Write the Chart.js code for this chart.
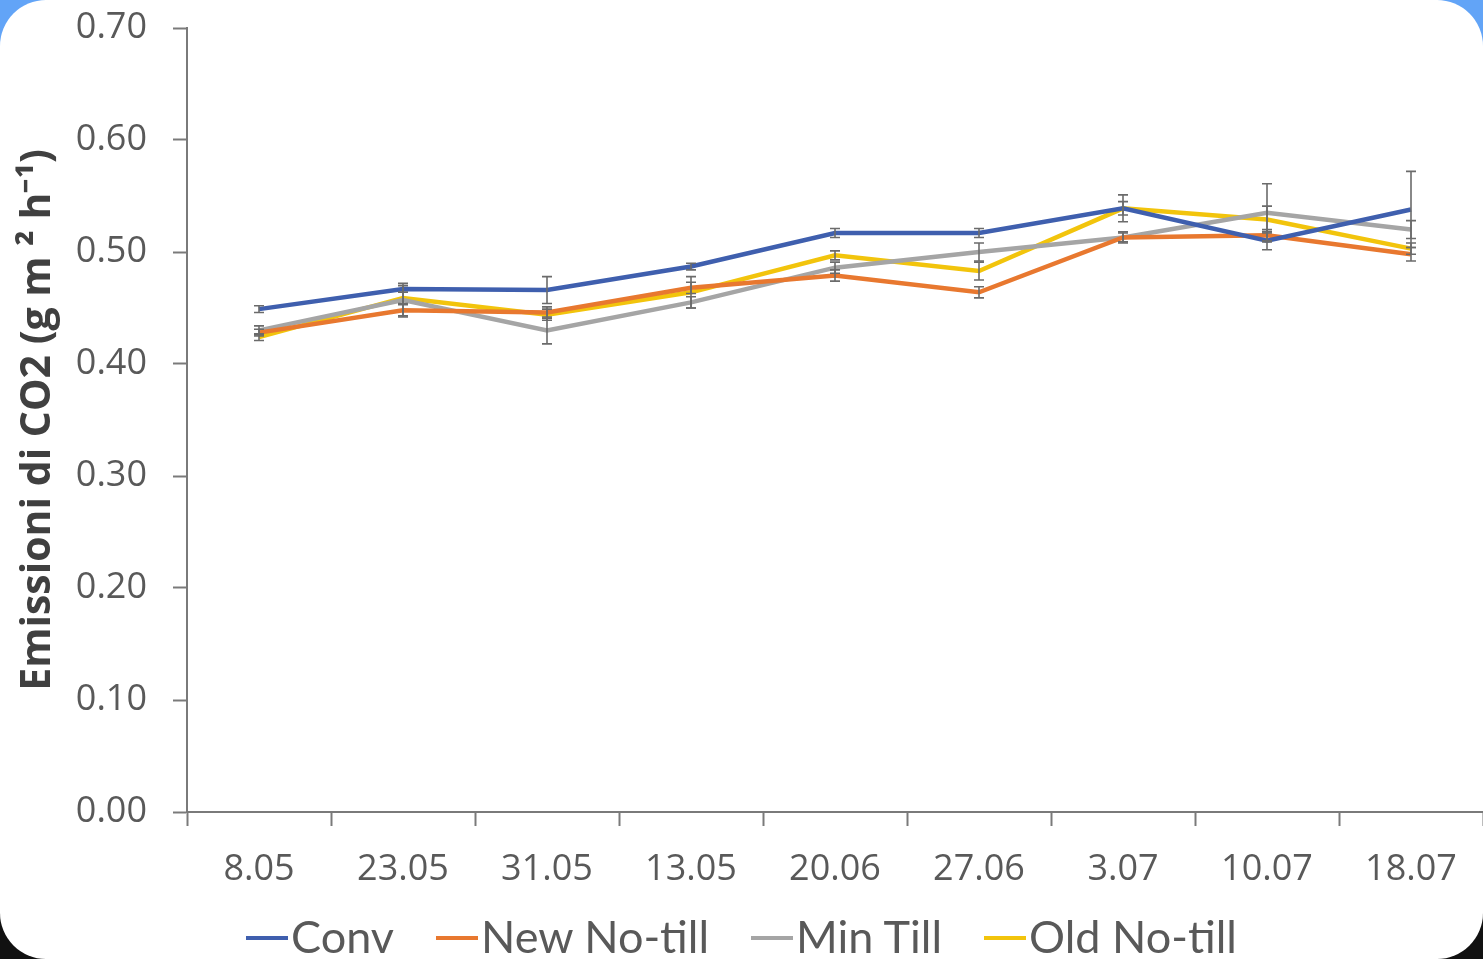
<!DOCTYPE html>
<html>
<head>
<meta charset="utf-8">
<script src="https://cdn.jsdelivr.net/npm/chart.js@4.4.0/dist/chart.umd.min.js"></script>
<style>
  html, body { margin: 0; padding: 0; width: 1483px; height: 959px; overflow: hidden; }
  body { background: linear-gradient(#62a4f7 50%, #111 50%); }
  .card { position: absolute; left: 0; top: 0; width: 1483px; height: 959px; background: #fff; border-radius: 46px; overflow: hidden; }
  #wrap { position: absolute; left: 0; top: 0; width: 1483px; height: 959px; }
  .legend { position: absolute; left: 0; top: 909px; width: 1483px; display: flex; justify-content: center;
            font-family: Lato, "Open Sans", sans-serif; font-size: 45px; color: #595959; white-space: nowrap; }
  .legend span.item { display: inline-flex; align-items: center; margin: 0 21px; }
  .legend i { display: inline-block; width: 42px; height: 4px; margin-right: 3px; margin-top: 4px; }
</style>
</head>
<body>
<div class="card">
  <div id="wrap"><canvas id="grafico"></canvas></div>
  <div class="legend" id="legenda"></div>
</div>
<script>
// dati
const categorie = ['8.05', '23.05', '31.05', '13.05', '20.06', '27.06', '3.07', '10.07', '18.07'];
const conv      = [0.449, 0.467, 0.466, 0.487, 0.517, 0.517, 0.539, 0.510, 0.538];
const newNoTill = [0.428, 0.448, 0.446, 0.468, 0.479, 0.464, 0.513, 0.515, 0.498];
const minTill   = [0.430, 0.457, 0.430, 0.455, 0.486, 0.500, 0.513, 0.535, 0.520];
const oldNoTill = [0.424, 0.459, 0.444, 0.464, 0.497, 0.483, 0.539, 0.529, 0.503];
// barre d'errore
const errConv      = [0.003, 0.003, 0.012, 0.003, 0.004, 0.004, 0.006, 0.008, 0.034];
const errNewNoTill = [0.003, 0.005, 0.005, 0.005, 0.005, 0.005, 0.004, 0.005, 0.006];
const errMinTill   = [0.004, 0.015, 0.012, 0.005, 0.005, 0.008, 0.005, 0.026, 0.008];
const errOldNoTill = [0.003, 0.005, 0.005, 0.014, 0.004, 0.008, 0.012, 0.012, 0.005];
const tickY = [0, 0.1, 0.2, 0.3, 0.4, 0.5, 0.6, 0.7];

const serie = [
    { label: 'Conv', data: conv, err: errConv, colore: '#3f5fae' },
    { label: 'New No-till', data: newNoTill, err: errNewNoTill, colore: '#e8782f' },
    { label: 'Min Till', data: minTill, err: errMinTill, colore: '#a5a5a5' },
    { label: 'Old No-till', data: oldNoTill, err: errOldNoTill, colore: '#f2c40c' }
];

// plugin per disegnare le barre d'errore
const barreErrore = {
    id: 'barreErrore',
    afterDatasetsDraw(chart) {
        const ctx = chart.ctx;
        const x = chart.scales.x;
        const y = chart.scales.y;
        ctx.save();
        ctx.strokeStyle = '#6b6b6b';
        ctx.lineWidth = 1.6;
        chart.data.datasets.forEach(ds => {
            ds.data.forEach((v, i) => {
                const e = ds.err[i];
                const px = x.getPixelForValue(i);
                const y1 = y.getPixelForValue(v + e);
                const y2 = y.getPixelForValue(v - e);
                ctx.beginPath();
                ctx.moveTo(px, y1); ctx.lineTo(px, y2);
                ctx.moveTo(px - 5, y1); ctx.lineTo(px + 5, y1);
                ctx.moveTo(px - 5, y2); ctx.lineTo(px + 5, y2);
                ctx.stroke();
            });
        });
        ctx.restore();
    }
};

const ctx = document.getElementById('grafico').getContext('2d');
const grafico = new Chart(ctx, {
    type: 'line',
    data: {
        labels: categorie,
        datasets: serie.map(s => ({
            label: s.label,
            data: s.data,
            err: s.err,
            borderColor: s.colore,
            backgroundColor: s.colore,
            borderWidth: 4.5,
            pointRadius: 0,
            tension: 0,
            fill: false
        }))
    },
    options: {
        responsive: true,
        maintainAspectRatio: false,
        animation: false,
        layout: { padding: { top: 28, right: 0, left: 0, bottom: 67 } },
        plugins: {
            legend: { display: false },
            tooltip: { enabled: false }
        },
        scales: {
            x: {
                offset: true,
                grid: { display: true, drawOnChartArea: false, offset: true, tickLength: 14, tickColor: '#7a7a7a', tickWidth: 2 },
                border: { color: '#7a7a7a', width: 2 },
                ticks: { color: '#595959', font: { family: 'Open Sans', size: 36 }, padding: 22, maxRotation: 0 },
                afterFit: (scale) => { scale.height = 80; scale.paddingLeft = 0; scale.paddingRight = 0; }
            },
            y: {
                min: 0,
                max: 0.7,
                afterBuildTicks: (scale) => { scale.ticks = tickY.map(v => ({ value: v })); },
                grid: { display: true, drawOnChartArea: false, tickLength: 14, tickColor: '#7a7a7a', tickWidth: 2 },
                border: { color: '#7a7a7a', width: 2 },
                ticks: {
                    color: '#595959',
                    font: { family: 'Open Sans', size: 36 },
                    padding: 26,
                    callback: (v) => Number(v).toFixed(2)
                },
                title: {
                    display: true,
                    text: 'Emissioni di CO2 (g m \u00b2 h\u207b\u00b9)',
                    color: '#404040',
                    font: { family: 'Open Sans', size: 41, weight: 'bold' },
                    padding: { top: 14, bottom: 0 }
                },
                afterFit: (scale) => { scale.width = 187; scale.paddingTop = 0; scale.paddingBottom = 0; }
            }
        }
    },
    plugins: [barreErrore]
});

// legenda
const legenda = document.getElementById('legenda');
serie.forEach(s => {
    const item = document.createElement('span');
    item.className = 'item';
    item.innerHTML = '<i style="background:' + s.colore + '"></i>' + s.label;
    legenda.appendChild(item);
});
</script>
</body>
</html>
